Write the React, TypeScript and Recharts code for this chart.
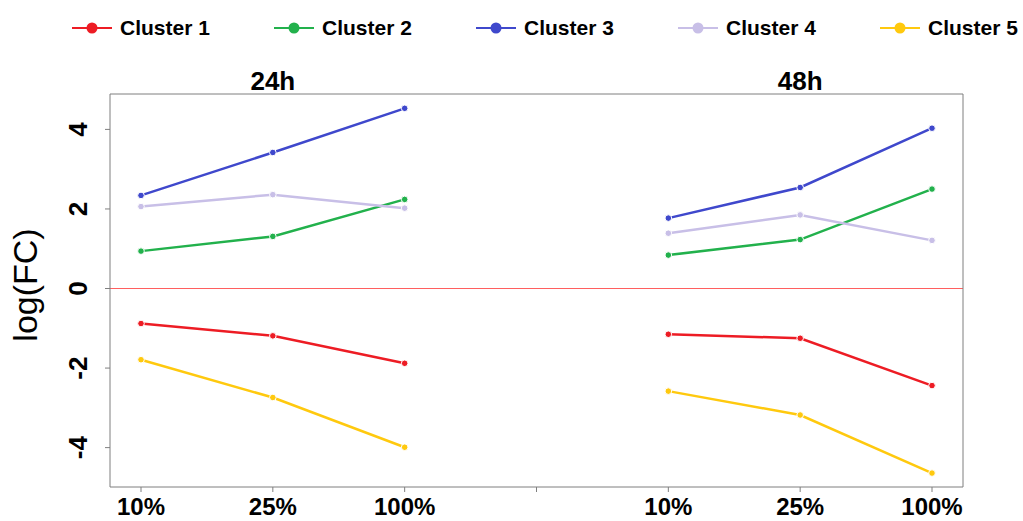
import * as React from "react";
import {
  LineChart,
  Line,
  XAxis,
  YAxis,
  ReferenceLine,
} from "recharts";

// x positions: three doses per time point, with an empty slot between panels
const categories = ["24h 10%", "24h 25%", "24h 100%", "gap", "48h 10%", "48h 25%", "48h 100%"];
const tickLabels = ["10%", "25%", "100%", "", "10%", "25%", "100%"];
const panelTitles = ["", "24h", "", "", "", "48h", ""];
const yTicks = [-4, -2, 0, 2, 4];

// log fold change per cluster (null = gap between panels)
const cluster1 = [-0.88, -1.19, -1.88, null, -1.15, -1.25, -2.44];
const cluster2 = [0.94, 1.31, 2.24, null, 0.84, 1.23, 2.5];
const cluster3 = [2.34, 3.42, 4.53, null, 1.77, 2.54, 4.03];
const cluster4 = [2.06, 2.36, 2.02, null, 1.39, 1.85, 1.21];
const cluster5 = [-1.79, -2.74, -3.99, null, -2.58, -3.18, -4.64];

const SERIES = [
  { key: "c1", name: "Cluster 1", values: cluster1, color: "#ED1C24" },
  { key: "c2", name: "Cluster 2", values: cluster2, color: "#22B14C" },
  { key: "c3", name: "Cluster 3", values: cluster3, color: "#3F48CC" },
  { key: "c4", name: "Cluster 4", values: cluster4, color: "#C8BFE7" },
  { key: "c5", name: "Cluster 5", values: cluster5, color: "#FFC90E" },
];

const data = categories.map((cat, i) => {
  const row: Record<string, unknown> = { cat };
  SERIES.forEach((s) => (row[s.key] = s.values[i]));
  return row;
});

const BOX = "#7F7F7F";
const FONT = "'Liberation Sans', Arial, sans-serif";

function YTick({ x, y, payload }: any) {
  return (
    <text
      transform={`translate(${x - 16},${y}) rotate(-90)`}
      textAnchor="middle"
      fontSize={26}
      fontWeight="bold"
      fill="#000"
    >
      {payload.value}
    </text>
  );
}

function LegendRow() {
  return (
    <div style={{ position: "absolute", left: 0, top: 0, width: 1023, height: 56 }}>
      {SERIES.map((s, i) => (
        <div
          key={s.key}
          style={{
            position: "absolute",
            left: 72 + i * 202,
            top: 14,
            display: "flex",
            alignItems: "center",
            height: 28,
          }}
        >
          <svg width={40} height={14}>
            <line x1={0} y1={7} x2={40} y2={7} stroke={s.color} strokeWidth={2} />
            <circle cx={20} cy={7} r={5.5} fill={s.color} />
          </svg>
          <span
            style={{
              marginLeft: 8,
              fontFamily: FONT,
              fontWeight: "bold",
              fontSize: 21,
              color: "#000",
              lineHeight: "28px",
            }}
          >
            {s.name}
          </span>
        </div>
      ))}
    </div>
  );
}

export default function App() {
  return (
    <div
      style={{
        position: "absolute",
        left: 0,
        top: 0,
        width: 1023,
        height: 521,
        background: "#fff",
        fontFamily: FONT,
      }}
    >
      <LegendRow />
      <div style={{ position: "absolute", left: 0, top: 0 }}>
        <LineChart
          width={1023}
          height={521}
          data={data}
          margin={{ top: 93, right: 59, bottom: 0, left: 50 }}
          style={{ fontFamily: FONT }}
        >
          <XAxis
            dataKey="cat"
            type="category"
            scale="point"
            padding={{ left: 31, right: 31 }}
            interval={0}
            height={34}
            tickSize={5}
            tickMargin={6}
            stroke={BOX}
            tickLine={{ stroke: BOX }}
            axisLine={{ stroke: BOX }}
            tick={{ fontSize: 24, fontWeight: "bold", fill: "#000" }}
            tickFormatter={(_v: string, i: number) => tickLabels[i]}
          />
          <XAxis
            xAxisId="top"
            orientation="top"
            dataKey="cat"
            type="category"
            scale="point"
            padding={{ left: 31, right: 31 }}
            interval={0}
            height={1}
            tickSize={0}
            tickMargin={4}
            tickLine={false}
            axisLine={{ stroke: BOX }}
            tick={{ fontSize: 26, fontWeight: "bold", fill: "#000" }}
            tickFormatter={(_v: string, i: number) => panelTitles[i]}
          />
          <YAxis
            type="number"
            domain={[-4.99, 4.89]}
            ticks={yTicks}
            allowDataOverflow
            width={60}
            tickSize={5}
            tickMargin={2}
            tickLine={{ stroke: BOX }}
            axisLine={{ stroke: BOX }}
            tick={<YTick />}
            label={{
              content: () => (
                <text
                  transform="translate(37,285) rotate(-90)"
                  textAnchor="middle"
                  fontSize={34}
                  fill="#000"
                >
                  log(FC)
                </text>
              ),
            }}
          />
          <YAxis
            yAxisId="right"
            orientation="right"
            type="number"
            domain={[-4.99, 4.89]}
            width={1}
            tick={false}
            tickLine={false}
            axisLine={{ stroke: BOX }}
          />
          <ReferenceLine y={0} stroke="#FF5F5F" strokeWidth={1} ifOverflow="extendDomain" />
          {SERIES.map((s) => (
            <Line
              key={s.key}
              dataKey={s.key}
              name={s.name}
              type="linear"
              stroke={s.color}
              strokeWidth={2.5}
              dot={{ r: 3.3, fill: s.color, stroke: "#fff", strokeWidth: 1 }}
              activeDot={false}
              isAnimationActive={false}
            />
          ))}
        </LineChart>
      </div>
    </div>
  );
}
